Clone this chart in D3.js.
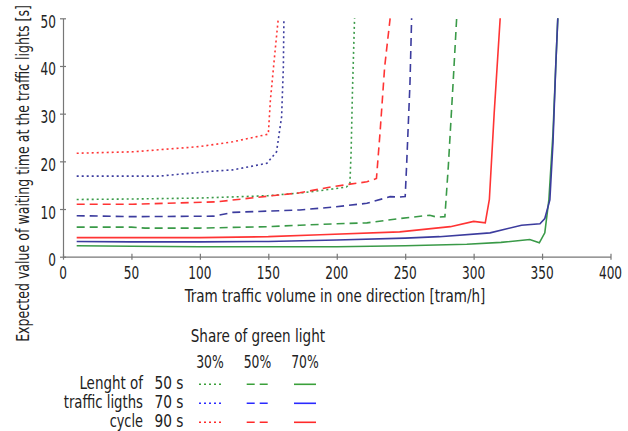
<!DOCTYPE html>
<html><head><meta charset="utf-8">
<script src="https://cdn.jsdelivr.net/npm/d3@7"></script>
<style>
html,body{margin:0;padding:0;background:#fff;}
svg text{font-family:"DejaVu Sans Condensed","DejaVu Sans",sans-serif;fill:#222;}
</style></head>
<body><svg id="c" width="628" height="431"></svg>
<script>
// ---- data ----
const xTicks = [0,50,100,150,200,250,300,350,400];
const yTicks = [0,10,20,30,40,50];
const cycles = ["50 s","70 s","90 s"];
const shares = ["30%","50%","70%"];
const rowLabels = ["Lenght of","traffic ligths","cycle"];

// 50 s cycle
const g30x = [10,50,100,150,175,197,207,209.6,210.5,211.5,213];
const g30y = [12.0,12.1,12.3,12.8,13.4,14.2,14.6,15.3,22,35,50];
const g50x = [10,50,60,100,150,173,200,222,246,268,273,279,281.5,285,287.6];
const g50y = [6.2,6.2,6.0,6.0,6.3,6.6,6.9,7.1,8.0,8.7,8.3,8.4,18.9,36.4,50];
const g70x = [10,50,100,150,200,250,295,320,341,348,352,355,358,360,361.5];
const g70y = [2.3,2.2,2.1,2.1,2.1,2.3,2.6,3.0,3.6,2.9,5,12,26,40,50];
// 70 s cycle
const b30x = [10,51,70,112,124,149,156,159.7,161,161.4];
const b30y = [16.9,16.9,16.9,18.0,18.2,19.6,22.0,29.3,39.8,50];
const b50x = [10,51,110,124,173,197,222,239,246,250,251,253.5,254.7];
const b50y = [8.6,8.4,8.5,9.3,9.8,10.4,11.2,12.6,12.5,12.6,18.9,36.4,50];
const b70x = [10,50,100,150,200,250,275,312,335,348.5,352,355.7,358,360,361.5];
const b70y = [3.2,3.1,3.1,3.2,3.5,3.9,4.2,5.0,6.6,6.9,8,11.9,24,40,50];
// 90 s cycle
const r30x = [10,51,100,124,150,151.5,155,157.3];
const r30y = [21.7,22.0,23.1,24.1,25.7,32.8,43.3,50];
const r50x = [10,51,112,150,173,197,222,229,231.6,235,239];
const r50y = [11.0,11.0,11.5,12.7,13.4,14.7,15.7,16.4,25.9,39.8,50];
const r70x = [10,50,100,150,188,246,283,300,308.5,311.5,315,319.4];
const r70y = [4.0,4.0,4.0,4.2,4.6,5.2,6.3,7.4,7.1,12,30,50];

const colorsChart = ["#3a9a48","#3c3c9e","#ff3434"];
const colorsLegend = ["#3aa03a","#2a2aff","#ff2a2a"];
const dashes = ["2,3","8,5",null];

const series = [
  {xs:g30x,ys:g30y,c:0,s:0},{xs:g50x,ys:g50y,c:0,s:1},{xs:g70x,ys:g70y,c:0,s:2},
  {xs:b30x,ys:b30y,c:1,s:0},{xs:b50x,ys:b50y,c:1,s:1},{xs:b70x,ys:b70y,c:1,s:2},
  {xs:r30x,ys:r30y,c:2,s:0},{xs:r50x,ys:r50y,c:2,s:1},{xs:r70x,ys:r70y,c:2,s:2}
];

// ---- chart ----
const svg = d3.select("#c");
const x = d3.scaleLinear().domain([0,400]).range([63,610.5]);
const y = d3.scaleLinear().domain([0,50]).range([256.7,18.3]);

const line = d3.line().x(d=>x(d[0])).y(d=>y(d[1]));
series.forEach(sr=>{
  const pts = sr.xs.map((v,i)=>[v,sr.ys[i]]);
  svg.append("path").attr("d",line(pts)).attr("fill","none")
    .attr("stroke",colorsChart[sr.c]).attr("stroke-width",1.6)
    .attr("stroke-dasharray",dashes[sr.s]);
});

// place text at (px,py) with optional rotation, compressed horizontally to width w
function place(parent, str, px, py, w, anchor, size, rot){
  const t = parent.append("text").attr("text-anchor",anchor).style("font-size",size+"px").text(str);
  const nat = t.node().getComputedTextLength();
  const s = Math.min(1, w/nat);
  t.attr("transform",`translate(${px},${py})${rot?` rotate(${rot})`:""} scale(${s},1)`);
  return t;
}

const axisColor = "#777";
const gx = svg.append("g").attr("transform",`translate(0,${y(0)})`)
  .call(d3.axisBottom(x).tickValues(xTicks).tickSize(3).tickSizeOuter(0).tickFormat(""));
gx.selectAll(".tick line").attr("y1",-3).attr("y2",3);
const gy = svg.append("g").attr("transform",`translate(${x(0)},0)`)
  .call(d3.axisLeft(y).tickValues(yTicks).tickSize(3).tickSizeOuter(0).tickFormat(""));
gy.selectAll(".tick line").attr("x1",3).attr("x2",-3);
[gx,gy].forEach(g=>{
  g.select(".domain").attr("stroke",axisColor).attr("stroke-width",1.2);
  g.selectAll(".tick line").attr("stroke",axisColor).attr("stroke-width",1.2);
  g.selectAll(".tick text").remove();
});
xTicks.forEach(v=>{
  place(svg, String(v), x(v), 278.5, String(v).length*7.7, "middle", 18);
});
yTicks.forEach(v=>{
  place(svg, String(v), 56, y(v)+9.5, String(v).length*7.7, "end", 18);
});

place(svg,"Tram traffic volume in one direction [tram/h]",335,302,301,"middle",17);
place(svg,"Expected value of waiting time at the traffic lights [s]",29,173.5,337,"middle",17,-90);

// ---- legend ----
place(svg,"Share of green light",190.7,341.5,134.5,"start",17);
const colX = [[199,221],[246.7,268.3],[294,316]];
shares.forEach((s,i)=>{
  place(svg,s,(colX[i][0]+colX[i][1])/2,368.3,27.5,"middle",17);
});
const rowY = [384.3,403.3,422.3];
const rowW = [63.7,79.3,33.4];
rowLabels.forEach((r,j)=>{
  place(svg,r,143,rowY[j]+5,rowW[j],"end",17);
  place(svg,cycles[j],183.5,rowY[j]+5,29,"end",17);
  shares.forEach((s,i)=>{
    svg.append("line").attr("x1",colX[i][0]).attr("x2",colX[i][1]).attr("y1",rowY[j]).attr("y2",rowY[j])
      .attr("stroke",colorsLegend[j]).attr("stroke-width",1.6).attr("stroke-dasharray",dashes[i]);
  });
});
</script></body></html>
